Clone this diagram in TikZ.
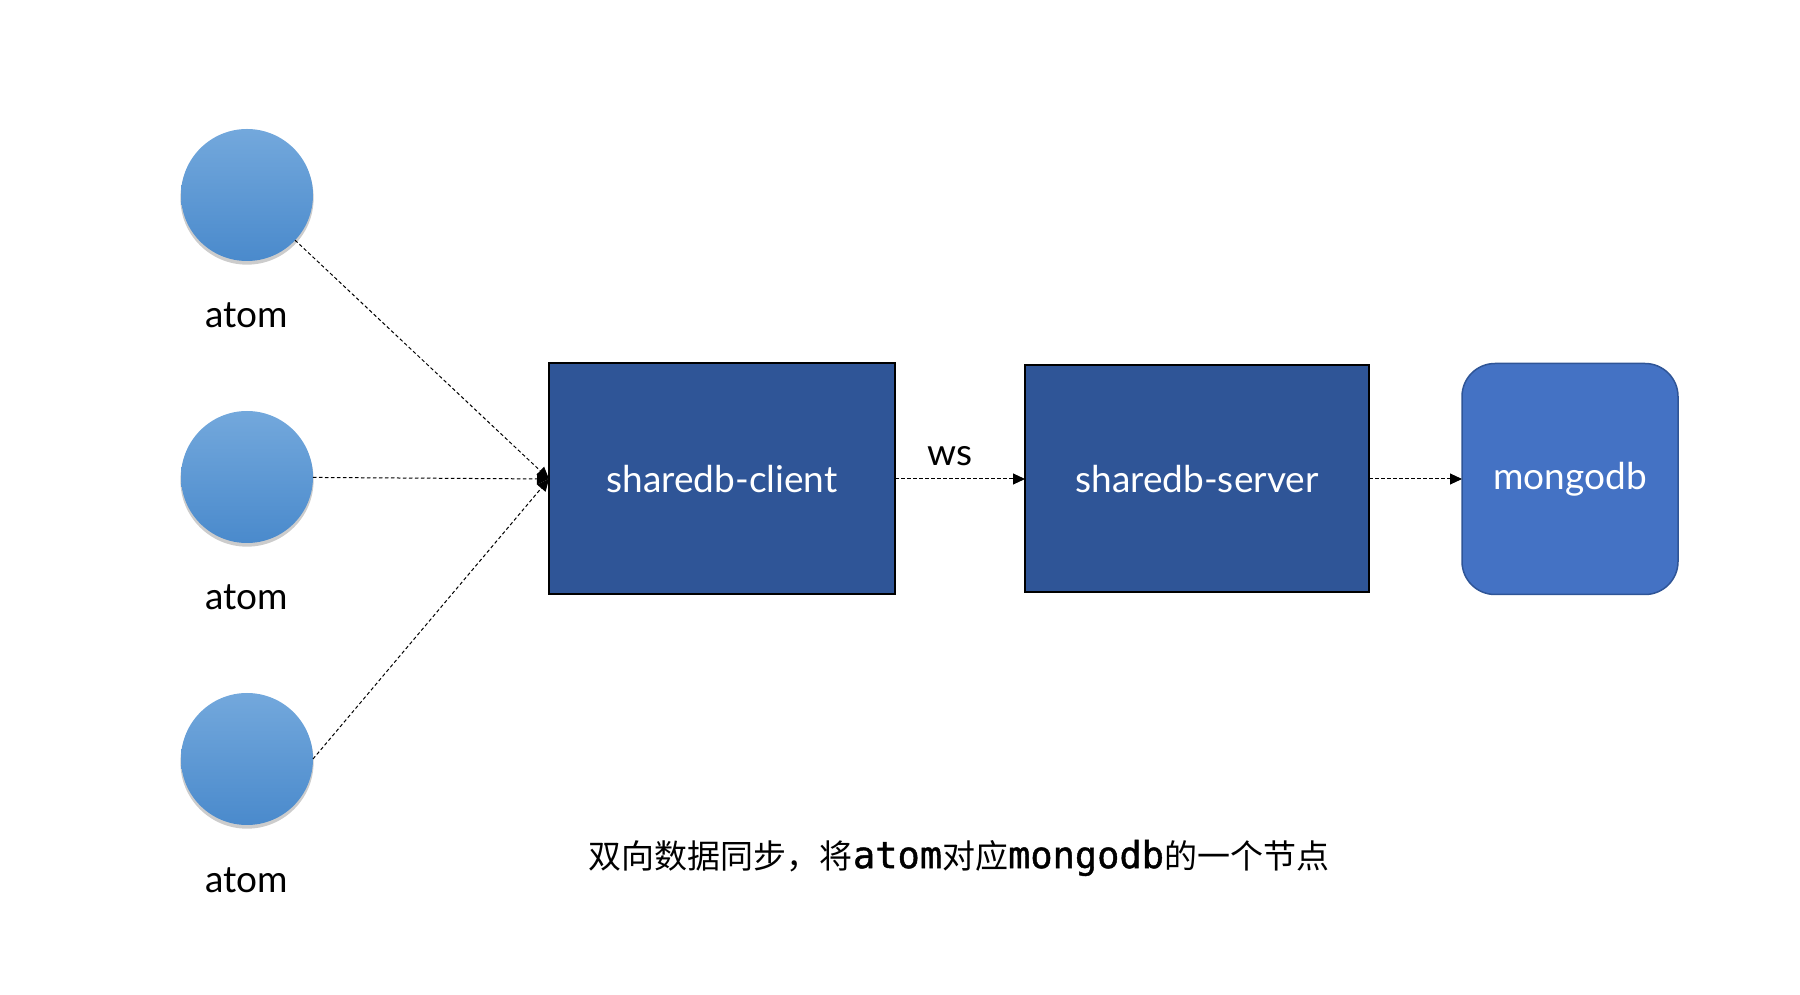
\documentclass[tikz,border=0pt]{standalone}
\usepackage{fontspec}
\setmainfont{Lato}
\newfontfamily\cjk{Noto Sans CJK SC}
\newfontfamily\latinmono{DejaVu Sans Mono}[FakeBold=1.2]
\usepackage{xcolor}
\usepackage{tikz}
\usetikzlibrary{arrows.meta, positioning, shadows}
\definecolor{atomtop}{HTML}{73A8DC}
\definecolor{atombottom}{HTML}{4A8ACC}
\definecolor{boxblue}{HTML}{2F5597}
\definecolor{dbblue}{HTML}{4472C4}
\tikzstyle{arrow} = [line width=1pt, dash pattern=on 3.5pt off 2.5pt, -{Triangle[length=12pt,width=11pt]}]

\begin{document}
\begin{tikzpicture}[
    x=1pt, y=1pt,
    atom/.style={circle, minimum size=132pt, inner sep=0pt, outer sep=0pt, top color=atomtop, bottom color=atombottom, drop shadow={opacity=0.4, shadow xshift=0pt, shadow yshift=-3pt, shadow scale=1.01}},
    atomtext/.style={font=\fontsize{37}{44}\selectfont, anchor=base, inner sep=0pt},
    block/.style={rectangle, draw=black, line width=2pt, outer sep=0pt, fill=boxblue, text=white, minimum width=346pt, minimum height=231pt, font=\fontsize{37}{44}\selectfont},
    dbblock/.style={rectangle, rounded corners=33pt, draw=boxblue, line width=1.5pt, outer sep=0pt, fill=dbblue, text=white, minimum width=216pt, minimum height=231pt, font=\fontsize{37}{44}\selectfont}
]
\useasboundingbox (0,0) rectangle (1800,994);

% Nodes
\node[atom] (atom1) at (247,799) {};
\foreach \i/\j in {2/1,3/2}
{
    \node[atom, below=150pt of atom\j] (atom\i) {};
}
\foreach \i in {1,2,3}
{
    \node[atomtext] (name\i) at ([yshift=-133pt]atom\i.center) {atom};
}
\node[block, right=236pt of atom2, yshift=-2pt] (client) {sharedb-client};
\node[block, right=130pt of client, minimum width=344pt, minimum height=227pt] (server) {sharedb-server};
\node[dbblock, right=93pt of server] (mongodb) {mongodb};
\node[font=\fontsize{33}{40}\selectfont] (note) at (959,136) {\cjk 双向数据同步，将{\latinmono\fontsize{37}{40}\selectfont atom}对应{\latinmono\fontsize{37}{40}\selectfont mongodb}的一个节点};

% Draw arrows
\draw[arrow] (atom1) -- (client.west);
\draw[arrow] (atom2) -- (client.west);
\draw[arrow] (atom3.east) -- (client.west);
\draw[arrow] (client) -- node[above=9pt, xshift=-10pt, font=\fontsize{37}{44}\selectfont] (ws) {ws} (server);
\draw[arrow] (server) -- (mongodb);

\end{tikzpicture}
\end{document}
